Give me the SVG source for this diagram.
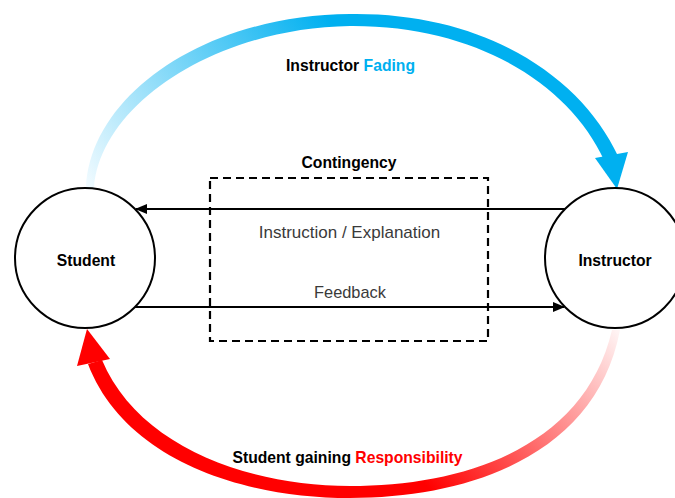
<svg xmlns="http://www.w3.org/2000/svg" width="675" height="498" viewBox="0 0 675 498">
<style>
.node{fill:#fff;stroke:#000;stroke-width:2}
.lbl{font-family:"Liberation Sans",Arial,sans-serif;font-weight:bold;font-size:15.7px;fill:#000;text-anchor:middle}
.reg{font-family:"Liberation Sans",Arial,sans-serif;font-size:17px;fill:#3a3a3a;text-anchor:middle}
.conn{stroke:#000;stroke-width:2;fill:none}
</style>
<defs>
<marker id="ah" viewBox="0 0 12 10" refX="11" refY="5" markerWidth="12" markerHeight="10" markerUnits="userSpaceOnUse" orient="auto">
<path d="M0,0 L12,5 L0,10 Z" fill="#000"/>
</marker>
<linearGradient id="gBlue" gradientUnits="userSpaceOnUse" x1="88" y1="190" x2="330" y2="20">
<stop offset="0" stop-color="#f2fbff"/>
<stop offset="1" stop-color="#00B0F0"/>
</linearGradient>
<linearGradient id="gRed" gradientUnits="userSpaceOnUse" x1="430" y1="490" x2="617" y2="330">
<stop offset="0" stop-color="#ff0000"/>
<stop offset="1" stop-color="#fff4f4"/>
</linearGradient>
</defs>
<rect width="675" height="498" fill="#fff"/>
<g id="connectors">
<path id="fading" d="M86,188 C90,95 205,15 350,14 C484,12 581,76 618,156 L604,160 C569,84 476,25 350,26 C215,28 100,105 94,188 Z" fill="url(#gBlue)"/>
<polygon points="595,158 628,152 617,189" fill="#00B0F0"/>
<path id="responsibility" d="M88,364 C123,456 236,498 350,498 C474,498 597,452 620,330 L612,330 C585,446 466,486 350,486 C244,486 137,444 102,360 Z" fill="url(#gRed)"/>
<polygon points="77,366 110,359 87,329" fill="#ff0000"/>
<line class="conn" x1="565" y1="209" x2="136" y2="209" marker-end="url(#ah)"/>
<line class="conn" x1="135" y1="307" x2="564" y2="307" marker-end="url(#ah)"/>
</g>
<g id="contingency">
<rect x="210" y="178" width="278" height="163" fill="none" stroke="#000" stroke-width="2.2" stroke-dasharray="8 5"/>
<text class="lbl" x="349" y="168">Contingency</text>
</g>
<g id="student">
<circle class="node" cx="85" cy="258" r="70"/>
<text class="lbl" x="86" y="266">Student</text>
</g>
<g id="instructor">
<circle class="node" cx="615" cy="258" r="70"/>
<text class="lbl" x="615" y="266">Instructor</text>
</g>
<g id="labels">
<text class="lbl" x="350.5" y="70.7">Instructor <tspan fill="#00B0F0">Fading</tspan></text>
<text class="lbl" x="347.5" y="463">Student gaining <tspan fill="#ff0000">Responsibility</tspan></text>
<text class="reg" x="349.5" y="237.7">Instruction / Explanation</text>
<text class="reg" x="350" y="297.7" style="font-size:16.4px">Feedback</text>
</g>
</svg>
